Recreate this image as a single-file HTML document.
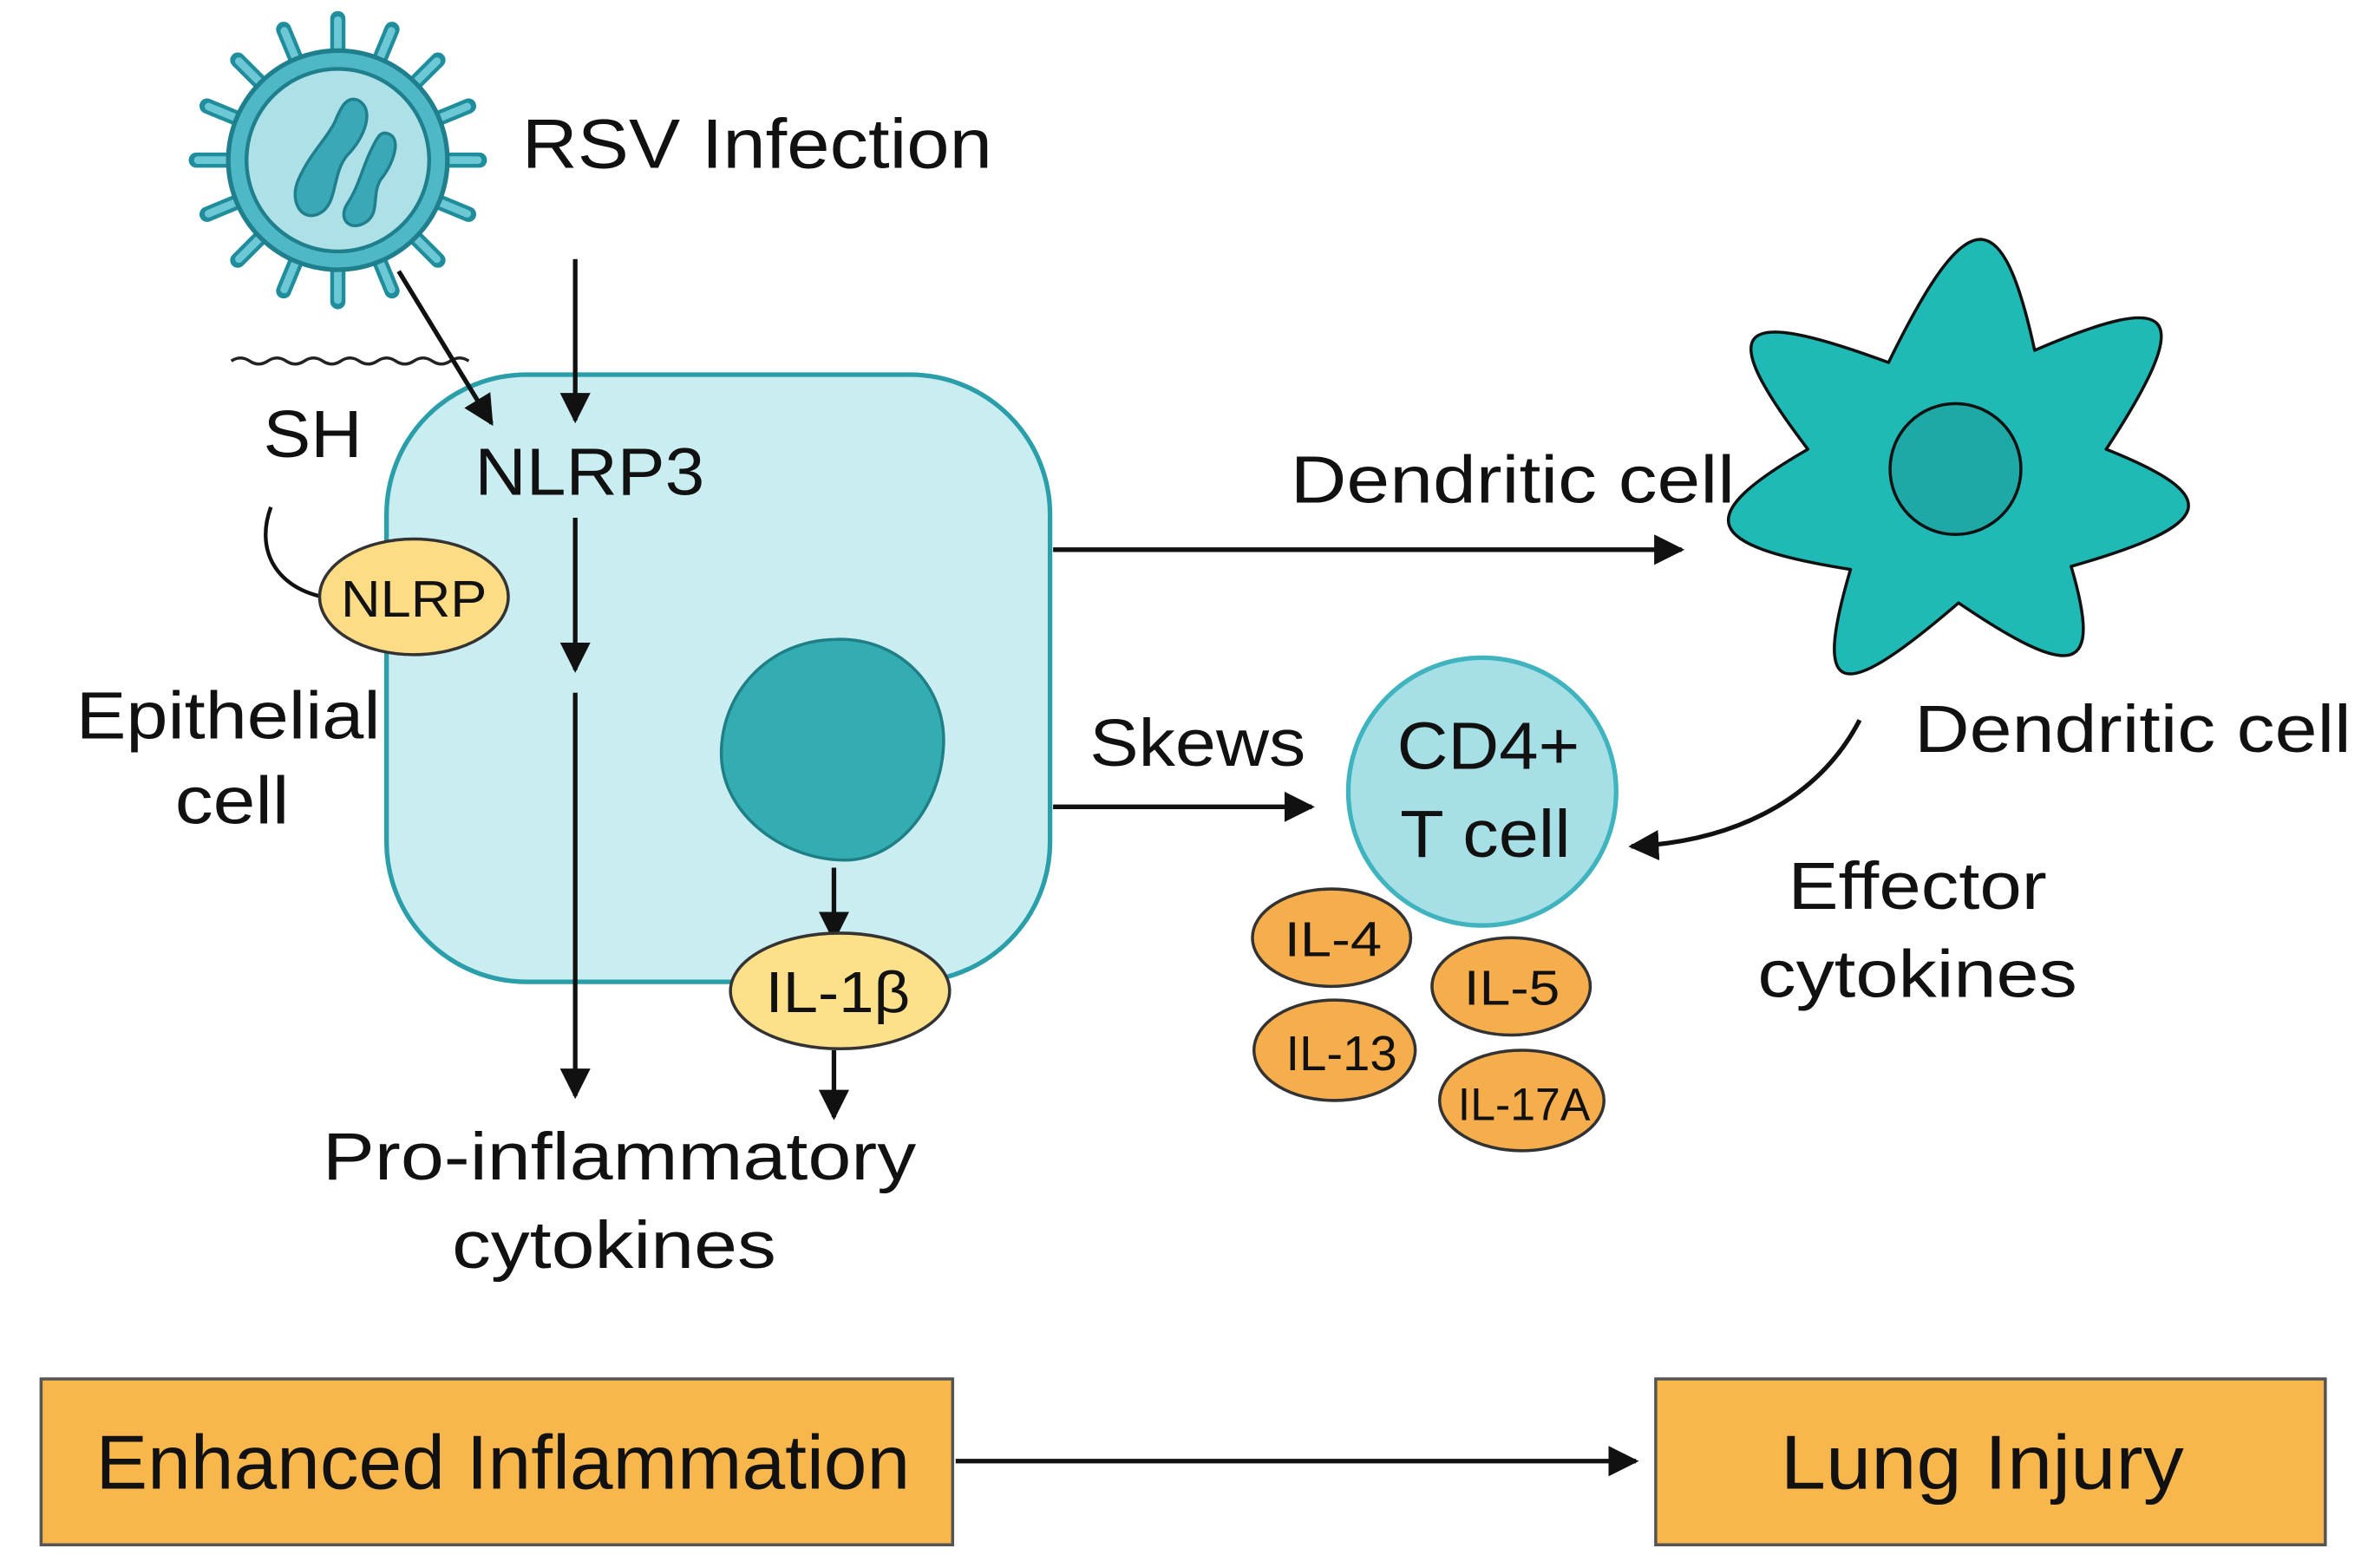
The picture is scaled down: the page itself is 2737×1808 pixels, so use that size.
<!DOCTYPE html>
<html><head><meta charset="utf-8"><style>html,body{margin:0;padding:0;background:#fff}svg{display:block}text{font-family:"Liberation Sans",sans-serif;fill:#111}</style></head>
<body>
<svg width="2737" height="1808" viewBox="0 0 1560 1030" xmlns="http://www.w3.org/2000/svg">
<defs>
<marker id="a2" viewBox="0 0 10 10" refX="9" refY="5" markerWidth="20" markerHeight="20" orient="auto" markerUnits="userSpaceOnUse"><path d="M0,0 L10,5 L0,10 z" fill="#111"/></marker>
</defs>
<rect width="1560" height="1030" fill="#fff"/>

<!-- virus -->
<g stroke="#1f8d9b" stroke-width="10" stroke-linecap="round">
<line x1="222" y1="33" x2="222" y2="12"/>
<line x1="222" y1="33" x2="222" y2="12" transform="rotate(22.5 222 105)"/>
<line x1="222" y1="33" x2="222" y2="12" transform="rotate(45 222 105)"/>
<line x1="222" y1="33" x2="222" y2="12" transform="rotate(67.5 222 105)"/>
<line x1="222" y1="33" x2="222" y2="12" transform="rotate(90 222 105)"/>
<line x1="222" y1="33" x2="222" y2="12" transform="rotate(112.5 222 105)"/>
<line x1="222" y1="33" x2="222" y2="12" transform="rotate(135 222 105)"/>
<line x1="222" y1="33" x2="222" y2="12" transform="rotate(157.5 222 105)"/>
<line x1="222" y1="33" x2="222" y2="12" transform="rotate(180 222 105)"/>
<line x1="222" y1="33" x2="222" y2="12" transform="rotate(202.5 222 105)"/>
<line x1="222" y1="33" x2="222" y2="12" transform="rotate(225 222 105)"/>
<line x1="222" y1="33" x2="222" y2="12" transform="rotate(247.5 222 105)"/>
<line x1="222" y1="33" x2="222" y2="12" transform="rotate(270 222 105)"/>
<line x1="222" y1="33" x2="222" y2="12" transform="rotate(292.5 222 105)"/>
<line x1="222" y1="33" x2="222" y2="12" transform="rotate(315 222 105)"/>
<line x1="222" y1="33" x2="222" y2="12" transform="rotate(337.5 222 105)"/>
</g>
<g stroke="#6cc8d4" stroke-width="5" stroke-linecap="round">
<line x1="222" y1="33" x2="222" y2="13"/>
<line x1="222" y1="33" x2="222" y2="13" transform="rotate(22.5 222 105)"/>
<line x1="222" y1="33" x2="222" y2="13" transform="rotate(45 222 105)"/>
<line x1="222" y1="33" x2="222" y2="13" transform="rotate(67.5 222 105)"/>
<line x1="222" y1="33" x2="222" y2="13" transform="rotate(90 222 105)"/>
<line x1="222" y1="33" x2="222" y2="13" transform="rotate(112.5 222 105)"/>
<line x1="222" y1="33" x2="222" y2="13" transform="rotate(135 222 105)"/>
<line x1="222" y1="33" x2="222" y2="13" transform="rotate(157.5 222 105)"/>
<line x1="222" y1="33" x2="222" y2="13" transform="rotate(180 222 105)"/>
<line x1="222" y1="33" x2="222" y2="13" transform="rotate(202.5 222 105)"/>
<line x1="222" y1="33" x2="222" y2="13" transform="rotate(225 222 105)"/>
<line x1="222" y1="33" x2="222" y2="13" transform="rotate(247.5 222 105)"/>
<line x1="222" y1="33" x2="222" y2="13" transform="rotate(270 222 105)"/>
<line x1="222" y1="33" x2="222" y2="13" transform="rotate(292.5 222 105)"/>
<line x1="222" y1="33" x2="222" y2="13" transform="rotate(315 222 105)"/>
<line x1="222" y1="33" x2="222" y2="13" transform="rotate(337.5 222 105)"/>
</g>
<circle cx="222" cy="105" r="72" fill="#4fb8c6" stroke="#1f7f8c" stroke-width="3"/>
<circle cx="222" cy="105" r="60" fill="#aee0e8" stroke="#1f7f8c" stroke-width="2.5"/>
<path d="M236,66 C246,72 240,90 228,102 C218,114 222,134 210,140 C198,146 190,132 196,118 C204,100 214,92 220,80 C224,70 228,62 236,66 Z" fill="#3aa8b6" stroke="#1f7f8c" stroke-width="2"/>
<path d="M256,88 C264,92 258,108 250,118 C244,128 250,140 240,146 C230,152 222,144 228,134 C236,122 238,110 244,98 C248,90 250,85 256,88 Z" fill="#3aa8b6" stroke="#1f7f8c" stroke-width="2"/>

<text x="343" y="110" font-size="46" textLength="309" lengthAdjust="spacingAndGlyphs">RSV Infection</text>

<path d="M152,237 q6,-4 12,0 t12,0 t12,0 t12,0 t12,0 t12,0 t12,0 t12,0 t12,0 t12,0 t12,0 t12,0 t12,0" fill="none" stroke="#222" stroke-width="2"/>

<!-- cell -->
<rect x="254" y="246" width="436" height="399" rx="92" fill="#c9edf0" stroke="#2a9ea9" stroke-width="3"/>
<path d="M548,420 C590,418 622,450 620,490 C618,530 590,565 555,565 C515,565 474,535 474,495 C474,455 505,421 548,420 Z" fill="#33adb2" stroke="#1f7f86" stroke-width="2"/>

<g stroke="#111" stroke-width="3" fill="none">
<line x1="262" y1="178" x2="323" y2="278" marker-end="url(#a2)"/>
<line x1="378" y1="170" x2="378" y2="276" marker-end="url(#a2)"/>
<line x1="378" y1="340" x2="378" y2="440" marker-end="url(#a2)"/>
<line x1="378" y1="455" x2="378" y2="720" marker-end="url(#a2)"/>
<line x1="548" y1="570" x2="548" y2="617" marker-end="url(#a2)"/>
<line x1="548" y1="690" x2="548" y2="734" marker-end="url(#a2)"/>
<line x1="692" y1="361" x2="1105" y2="361" marker-end="url(#a2)"/>
<line x1="692" y1="530" x2="862" y2="530" marker-end="url(#a2)"/>
<path d="M1222,473 C1195,525 1140,553 1072,556" marker-end="url(#a2)"/>
<line x1="628" y1="960" x2="1075" y2="960" marker-end="url(#a2)"/>
<path d="M178,333 C168,360 180,385 212,392" stroke-width="2.5"/>
</g>

<text x="173" y="300" font-size="44" textLength="65" lengthAdjust="spacingAndGlyphs">SH</text>
<text x="312" y="325" font-size="44" textLength="151" lengthAdjust="spacingAndGlyphs">NLRP3</text>

<ellipse cx="272" cy="392" rx="62" ry="38" fill="#fcdc85" stroke="#333" stroke-width="2"/>
<text x="224" y="405" font-size="34" textLength="96" lengthAdjust="spacingAndGlyphs">NLRP</text>

<text x="50" y="485" font-size="44" textLength="200" lengthAdjust="spacingAndGlyphs">Epithelial</text>
<text x="115" y="541" font-size="44" textLength="75" lengthAdjust="spacingAndGlyphs">cell</text>

<ellipse cx="552" cy="651" rx="72" ry="38" fill="#fde08a" stroke="#333" stroke-width="2"/>
<text x="503" y="665" font-size="38" textLength="95" lengthAdjust="spacingAndGlyphs">IL-1β</text>

<text x="212" y="775" font-size="44" textLength="390" lengthAdjust="spacingAndGlyphs">Pro-inflammatory</text>
<text x="297" y="833" font-size="44" textLength="213" lengthAdjust="spacingAndGlyphs">cytokines</text>

<text x="848" y="330" font-size="44" textLength="292" lengthAdjust="spacingAndGlyphs">Dendritic cell</text>

<!-- dendritic cell -->
<path d="M1188,295 C1126.2,213.9 1139,200.3 1241,238 C1292.5,132.5 1315.5,130.5 1337,230 C1431.8,189.1 1443,204.7 1384,295 C1462.2,326.2 1456.6,344.6 1361,372 C1381.7,442.4 1363.9,448.2 1287,396 C1208.1,463.9 1191.1,458.6 1216,374 C1117.9,358.4 1111.1,339.4 1188,295 Z" fill="#1fbab5" stroke="#111" stroke-width="2" stroke-linejoin="round"/>
<circle cx="1285" cy="308" r="43" fill="#1ea9a6" stroke="#111" stroke-width="2"/>

<text x="1258" y="494" font-size="44" textLength="287" lengthAdjust="spacingAndGlyphs">Dendritic cell</text>

<text x="716" y="503" font-size="44" textLength="142" lengthAdjust="spacingAndGlyphs">Skews</text>

<circle cx="974" cy="520" r="88" fill="#a6e0e6" stroke="#3fb3be" stroke-width="3"/>
<text x="918" y="505" font-size="44" textLength="120" lengthAdjust="spacingAndGlyphs">CD4+</text>
<text x="920" y="563" font-size="44" textLength="112" lengthAdjust="spacingAndGlyphs">T cell</text>

<text x="1175" y="597" font-size="44" textLength="170" lengthAdjust="spacingAndGlyphs">Effector</text>
<text x="1155" y="655" font-size="44" textLength="210" lengthAdjust="spacingAndGlyphs">cytokines</text>

<g fill="#f6ae4c" stroke="#333" stroke-width="2">
<ellipse cx="875" cy="616" rx="52" ry="32"/>
<ellipse cx="993" cy="648" rx="52" ry="32"/>
<ellipse cx="877" cy="690" rx="53" ry="33"/>
<ellipse cx="1000" cy="723" rx="54" ry="33"/>
</g>
<text x="844" y="628" font-size="32" textLength="64" lengthAdjust="spacingAndGlyphs">IL-4</text>
<text x="962" y="660" font-size="32" textLength="63" lengthAdjust="spacingAndGlyphs">IL-5</text>
<text x="845" y="703" font-size="32" textLength="73" lengthAdjust="spacingAndGlyphs">IL-13</text>
<text x="958" y="736" font-size="30" textLength="87" lengthAdjust="spacingAndGlyphs">IL-17A</text>

<rect x="27" y="906" width="599" height="109" fill="#f8b74c" stroke="#555" stroke-width="2"/>
<text x="63" y="978" font-size="50" textLength="535" lengthAdjust="spacingAndGlyphs">Enhanced Inflammation</text>
<rect x="1088" y="906" width="440" height="109" fill="#f8b74c" stroke="#555" stroke-width="2"/>
<text x="1170" y="978" font-size="50" textLength="265" lengthAdjust="spacingAndGlyphs">Lung Injury</text>
</svg>
</body></html>
